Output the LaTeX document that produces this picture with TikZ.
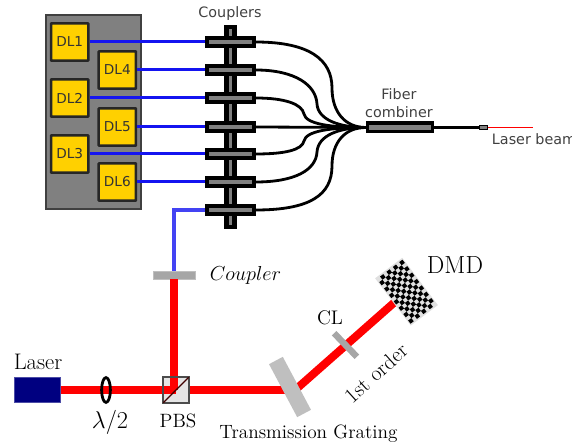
\documentclass[tikz,border=0pt]{standalone}
\usepackage{amsmath}
\usepackage{fontspec}
\usetikzlibrary{shapes.geometric}
\newfontfamily\sanslabel{DejaVu Sans}
\definecolor{dlyellow}{RGB}{255,208,0}
\definecolor{laserblue}{RGB}{0,0,128}
\definecolor{fiberblue}{RGB}{20,20,240}
\tikzset{
    dlbox/.style={draw=black!85, fill=dlyellow, line width=0.06cm, rounded corners=0.3pt,
        minimum size=0.93cm, inner sep=0pt, text=black!80, font=\sanslabel\fontsize{9.7}{10}\selectfont},
    couplerbox/.style={draw=black, fill=gray, line width=0.09cm, minimum width=1.17cm,
        minimum height=0.2cm, inner sep=0pt},
    bluefiber/.style={draw=fiberblue, line width=0.075cm},
    blackfiber/.style={draw=black, line width=0.07cm},
    redbeam/.style={draw=red, line width=0.2cm},
    optic/.style={fill=black!25, draw=none, inner sep=0pt},
    sanstext/.style={text=black!75, font=\sanslabel\fontsize{10.2}{12.5}\selectfont, align=center},
    serifbig/.style={font=\fontsize{16}{18}\selectfont},
    serifsmall/.style={font=\fontsize{13.7}{15}\selectfont}
}
\begin{document}
\begin{tikzpicture}[x=0.025cm,y=-0.025cm]
    \useasboundingbox (0,0) rectangle (572,445);

    % laser rack
    \node [draw=black!75, fill=gray, line width=0.05cm, minimum width=2.37cm, minimum height=4.87cm,
        inner sep=0pt] (rack) at (93.3,112) {};
    \node [dlbox] (dl1) at (69.7,42) {DL1};
    \node [dlbox] (dl4) at (117.3,70) {DL4};
    \node [dlbox] (dl2) at (69.7,98) {DL2};
    \node [dlbox] (dl5) at (117.3,127) {DL5};
    \node [dlbox] (dl3) at (69.7,154) {DL3};
    \node [dlbox] (dl6) at (117.3,182) {DL6};

    % couplers
    \node [couplerbox, line width=0.11cm, minimum width=0.2cm, minimum height=5cm] (bar) at (230.5,127) {};
    \node [couplerbox] (c1) at (230.5,42) {};
    \node [couplerbox] (c2) at (230.5,70) {};
    \node [couplerbox] (c3) at (230.5,98) {};
    \node [couplerbox] (c4) at (230.5,127) {};
    \node [couplerbox] (c5) at (230.5,154) {};
    \node [couplerbox] (c6) at (230.5,182) {};
    \node [couplerbox] (c7) at (230.5,210) {};
    \node [sanstext] (couplerstext) at (230,14) {Couplers};

    % blue fibers
    \draw [bluefiber] (dl1.east) -- (c1.west);
    \draw [bluefiber] (dl4.east) -- (c2.west);
    \draw [bluefiber] (dl2.east) -- (c3.west);
    \draw [bluefiber] (dl5.east) -- (c4.west);
    \draw [bluefiber] (dl3.east) -- (c5.west);
    \draw [bluefiber] (dl6.east) -- (c6.west);

    % fiber combiner
    \node [couplerbox, minimum width=1.62cm, minimum height=0.21cm] (combiner) at (400,127.5) {};
    \node [sanstext] (combinertext) at (399,103) {Fiber\\combiner};
    \draw [blackfiber] (c1.east) .. controls (310,42) and (332,60) .. (332,88) .. controls (332,112) and (345,127.5) .. (combiner.west);
    \draw [blackfiber] (c2.east) .. controls (295,70) and (316,85) .. (317,104) .. controls (318,120) and (340,127.5) .. (combiner.west);
    \draw [blackfiber] (c3.east) .. controls (285,98) and (302,104) .. (304,114) .. controls (306,124) and (330,127.5) .. (combiner.west);
    \draw [blackfiber] (c4.east) -- (combiner.west);
    \draw [blackfiber] (c5.east) .. controls (285,154) and (302,150) .. (304,141) .. controls (306,131) and (330,127.5) .. (combiner.west);
    \draw [blackfiber] (c6.east) .. controls (295,182) and (316,170) .. (317,152) .. controls (318,135) and (340,127.5) .. (combiner.west);
    \draw [blackfiber] (c7.east) .. controls (310,210) and (332,195) .. (332,166) .. controls (332,142) and (345,127.5) .. (combiner.west);

    % output pigtail
    \node [draw=black, fill=gray, line width=0.04cm, minimum width=0.2cm, minimum height=0.1cm,
        inner sep=0pt] (tip) at (483.5,127.5) {};
    \coordinate (beamend) at (533,127.5);
    \draw [blackfiber, line width=0.06cm] (combiner.east) -- (tip.west);
    \draw [red, line width=0.025cm] (tip.east) -- (beamend);
    \node [sanstext, anchor=west] (beamtext) at (487,139) {Laser beam};

    % free space part
    \node [fill=laserblue, draw=laserblue!70, minimum width=1.15cm, minimum height=0.63cm, inner sep=0pt] (laser) at (37.5,390) {};
    \node [serifbig] (lasertext) at (38,362) {Laser};
    \node [fill=black!10, minimum size=0.62cm, inner sep=0pt] (pbs) at (176,390) {};
    \node [fill=black!35, draw=black!25, minimum width=1.05cm, minimum height=0.2cm, inner sep=0pt] (fibercoupler) at (174,275) {};
    \node [serifsmall, font=\fontsize{14}{16}\selectfont] (couplertext) at (245.5,275) {$Coupler$};
    \coordinate (gratingin) at (290,390);
    \coordinate (gratingout) at (294,391);

    \draw [redbeam] (laser.east) -- (pbs.center);   % beam up to the cube
    \draw [redbeam] (fibercoupler.south) -- (fibercoupler.south |- pbs.center);
    \draw [redbeam] (pbs.east) -- (gratingin);
    \draw [draw=fiberblue!80, line width=0.08cm] (c7.west) -| (fibercoupler.north);
    \draw [black!70, line width=0.05cm] (pbs.south west) rectangle (pbs.north east);
    \draw [black!75!red, line width=0.03cm] (pbs.south west) -- (pbs.north east);
    \node [ellipse, draw=black, line width=0.07cm, minimum width=0.22cm, minimum height=0.62cm, inner sep=0pt] (plate) at (106,390) {};
    \node [serifbig] (platetext) at (110,422) {$\lambda/2$};
    \node [serifsmall] (pbstext) at (178,421) {PBS};

    % grating, lens and DMD
    \node [optic, opacity=0, minimum size=1pt] (dmdanchor) at (406.5,291.7) {};
    \draw [redbeam] (gratingout) -- (dmdanchor.center);
    \node [optic, rotate=28, minimum width=0.39cm, minimum height=1.5cm] (grating) at (290,387) {};
    \node [optic, fill=black!35, rotate=-46, minimum width=0.82cm, minimum height=0.16cm] (lens) at (345.5,345) {};
    \node [optic, fill=black!12, rotate=-53, minimum width=1.48cm, minimum height=0.85cm] (dmd) at (dmdanchor) {};
    \begin{scope}[shift={(dmdanchor)}, rotate=-53]
        \foreach \i in {-7,...,6}
            \foreach \j in {-4,...,3} {
                \pgfmathparse{int(mod(\i+\j+20,2))}
                \ifnum\pgfmathresult=1
                    \fill [black] (4*\i,4*\j) rectangle ++(4,4);
                \fi
            }
    \end{scope}
    \node [font=\fontsize{17.6}{19}\selectfont] (dmdtext) at (455,265) {DMD};
    \node [serifsmall, font=\fontsize{14}{16}\selectfont] (lenstext) at (330,318) {CL};
    \node [serifsmall, font=\fontsize{15.3}{17}\selectfont, rotate=42] (ordertext) at (376,373) {1st order};
    \node [serifsmall] (gratingtext) at (308.5,434) {Transmission Grating};
\end{tikzpicture}
\end{document}
